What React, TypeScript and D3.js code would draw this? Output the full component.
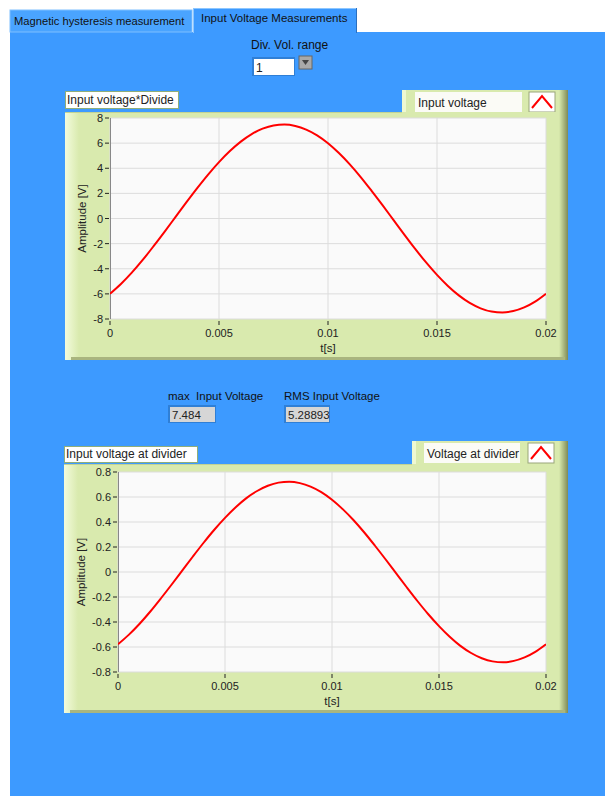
import React from 'react';
import * as d3 from 'd3';

// samples every 0.5 ms over one 20 ms period
const timeS = d3.range(41).map((i) => i * 0.0005);
const inputVoltage = [
  -5.99, -5.21, -4.31, -3.3, -2.2, -1.06, 0.11, 1.28, 2.42, 3.5, 4.49, 5.37, 6.12, 6.72, 7.15, 7.41, 7.48, 7.37,
  7.08, 6.62, 5.99, 5.21, 4.31, 3.3, 2.2, 1.06, -0.11, -1.28, -2.42, -3.5, -4.49, -5.37, -6.12, -6.72, -7.15,
  -7.41, -7.48, -7.37, -7.08, -6.62, -5.99,
];
const dividerVoltage = [
  -0.578, -0.503, -0.416, -0.318, -0.212, -0.102, 0.011, 0.124, 0.234, 0.338, 0.433, 0.518, 0.591, 0.648, 0.69,
  0.715, 0.722, 0.711, 0.683, 0.639, 0.578, 0.503, 0.416, 0.318, 0.212, 0.102, -0.011, -0.124, -0.234, -0.338,
  -0.433, -0.518, -0.591, -0.648, -0.69, -0.715, -0.722, -0.711, -0.683, -0.639, -0.578,
];
const xTicks = [0, 0.005, 0.01, 0.015, 0.02];
const yTicksTop = [8, 6, 4, 2, 0, -2, -4, -6, -8];
const yTicksBottom = [0.8, 0.6, 0.4, 0.2, 0, -0.2, -0.4, -0.6, -0.8];
const maxInputVoltage = '7.484';
const rmsInputVoltage = '5.28893';

const FONT = 'Liberation Sans, Arial, sans-serif';
const BLUE = '#3d9aff';
const FRAME = '#d9eaae';

type ChartProps = {
  id: string;
  frame: { x0: number; y0: number; x1: number; y1: number };
  plot: { left: number; right: number; top: number; bottom: number };
  title: { x1: number; y0: number; y1: number; text: string };
  legend: { x0: number; y0: number; y1: number; tx0: number; tx1: number; ix0: number; text: string };
  values: number[];
  yTicks: number[];
};

function Chart({ id, frame, plot, title, legend, values, yTicks }: ChartProps) {
  const x = d3.scaleLinear().domain([0, 0.02]).range([plot.left, plot.right]);
  const ext = yTicks[0];
  const y = d3.scaleLinear().domain([-ext, ext]).range([plot.bottom, plot.top]);
  const line = d3
    .line<number>()
    .x((_, i) => x(timeS[i]))
    .y((d) => y(d))
    .curve(d3.curveMonotoneX);
  const fmt = (v: number) => (v === 0 ? '0' : String(v));
  const lgTop = legend.y0;
  const lgBot = legend.y1;
  return (
    <g>
      <defs>
        <linearGradient id={`${id}-r`} x1="0" x2="1">
          <stop offset="0" stopColor={FRAME} />
          <stop offset="1" stopColor="#7f8a56" />
        </linearGradient>
        <linearGradient id={`${id}-l`} x1="0" x2="1">
          <stop offset="0" stopColor="#f3fbdc" />
          <stop offset="1" stopColor={FRAME} />
        </linearGradient>
        <clipPath id={`${id}-c`}>
          <rect x={plot.left} y={plot.top} width={plot.right - plot.left} height={plot.bottom - plot.top} />
        </clipPath>
      </defs>
      {/* legend tab */}
      <rect x={legend.x0} y={lgTop} width={frame.x1 - legend.x0} height={frame.y0 - lgTop + 4} fill={FRAME} />
      <rect x={legend.x0} y={lgTop} width={4} height={frame.y0 - lgTop} fill="#eef8d2" />
      <rect x={frame.x1 - 9} y={lgTop} width={9} height={frame.y0 - lgTop + 4} fill={`url(#${id}-r)`} />
      <rect x={legend.tx0} y={lgTop + 2} width={legend.tx1 - legend.tx0} height={lgBot - lgTop - 4} fill="#fbfbf6" />
      <text x={legend.tx0 + 3} y={lgBot - 7} fontFamily={FONT} fontSize={12} fill="#222">
        {legend.text}
      </text>
      <rect x={legend.ix0} y={lgTop + 2} width={26} height={lgBot - lgTop - 4} fill="#fff" stroke="#9aa57a" strokeWidth={1} />
      <path
        d={`M${legend.ix0 + 3},${lgBot - 6} L${legend.ix0 + 13},${lgTop + 6} L${legend.ix0 + 23},${lgBot - 6}`}
        fill="none"
        stroke="#ff0000"
        strokeWidth={2}
      />
      {/* frame */}
      <rect x={frame.x0} y={frame.y0} width={frame.x1 - frame.x0} height={frame.y1 - frame.y0} fill={FRAME} />
      <rect x={frame.x0} y={frame.y0} width={14} height={frame.y1 - frame.y0} fill={`url(#${id}-l)`} />
      <rect x={frame.x1 - 9} y={frame.y0} width={9} height={frame.y1 - frame.y0} fill={`url(#${id}-r)`} />
      <rect x={frame.x0 + 6} y={frame.y1 - 3} width={frame.x1 - frame.x0 - 9} height={3} fill="#a9b57f" />
      <line x1={frame.x0} x2={legend.x0} y1={frame.y0 + 0.5} y2={frame.y0 + 0.5} stroke="#c2d394" />
      {/* title label */}
      <rect x={frame.x0 + 0.5} y={title.y0 + 0.5} width={title.x1 - frame.x0} height={title.y1 - title.y0} fill="#fff" stroke="#8fae7a" />
      <text x={frame.x0 + 2} y={title.y1 - 4} fontFamily={FONT} fontSize={12} fill="#222">
        {title.text}
      </text>
      {/* plot */}
      <rect x={plot.left} y={plot.top} width={plot.right - plot.left} height={plot.bottom - plot.top} fill="#fafafa" />
      {yTicks.map((t) => (
        <line key={`gy${t}`} x1={plot.left} x2={plot.right} y1={y(t)} y2={y(t)} stroke="#dcdcdc" />
      ))}
      {xTicks.map((t) => (
        <line key={`gx${t}`} x1={x(t)} x2={x(t)} y1={plot.top} y2={plot.bottom} stroke="#dcdcdc" />
      ))}
      <line x1={plot.left + 0.5} x2={plot.left + 0.5} y1={plot.top} y2={plot.bottom} stroke="#888" />
      <path d={line(values) || ''} fill="none" stroke="#ff0000" strokeWidth={2} clipPath={`url(#${id}-c)`} />
      {/* y axis */}
      {yTicks.map((t) => (
        <g key={`ty${t}`}>
          <line x1={plot.left - 5} x2={plot.left - 1} y1={y(t)} y2={y(t)} stroke="#222" />
          <text x={plot.left - 7} y={y(t) + 4} textAnchor="end" fontFamily={FONT} fontSize={11} fill="#222">
            {fmt(t)}
          </text>
        </g>
      ))}
      {/* x axis */}
      {xTicks.map((t) => (
        <g key={`tx${t}`}>
          <line x1={x(t)} x2={x(t)} y1={plot.bottom + 2} y2={plot.bottom + 6} stroke="#222" />
          <text x={x(t)} y={plot.bottom + 18} textAnchor="middle" fontFamily={FONT} fontSize={11} fill="#222">
            {fmt(t)}
          </text>
        </g>
      ))}
      <text x={(plot.left + plot.right) / 2} y={plot.bottom + 33} textAnchor="middle" fontFamily={FONT} fontSize={11.5} fill="#222">
        t[s]
      </text>
      <text
        transform={`translate(${frame.x0 + 21},${(plot.top + plot.bottom) / 2}) rotate(-90)`}
        textAnchor="middle"
        fontFamily={FONT}
        fontSize={11.5}
        fill="#222"
      >
        Amplitude [V]
      </text>
    </g>
  );
}

function Numeric({ x, y, w, label, value }: { x: number; y: number; w: number; label: string; value: string }) {
  return (
    <g>
      <text x={x} y={y - 5} fontFamily={FONT} fontSize={11.5} fill="#111" style={{ whiteSpace: 'pre' }}>
        {label}
      </text>
      <rect x={x} y={y} width={w} height={18} fill="#2f7fd6" />
      <rect x={x + 2} y={y + 2} width={w - 3} height={15} fill="#d6d6d6" />
      <text x={x + 4} y={y + 14} fontFamily={FONT} fontSize={11.5} fill="#222">
        {value}
      </text>
    </g>
  );
}

export default function App() {
  return (
    <svg
      width={605}
      height={796}
      style={{ position: 'absolute', left: 0, top: 0, background: '#fff' }}
      xmlns="http://www.w3.org/2000/svg"
    >
      {/* panel and tabs */}
      <rect x={10} y={32} width={595} height={764} fill={BLUE} />
      <rect x={10} y={10} width={182} height={22} fill="#4aa4ff" stroke="#7fbfff" />
      <text x={14} y={25} fontFamily={FONT} fontSize={11.2} fill="#111">
        Magnetic hysteresis measurement
      </text>
      <rect x={193} y={8} width={164} height={26} fill={BLUE} />
      <line x1={193.5} x2={193.5} y1={8} y2={33} stroke="#8cc6ff" />
      <line x1={193} x2={357} y1={8.5} y2={8.5} stroke="#8cc6ff" />
      <line x1={356.5} x2={356.5} y1={8} y2={33} stroke="#2a6fc0" />
      <text x={201} y={22} fontFamily={FONT} fontSize={11.5} fill="#111">
        Input Voltage Measurements
      </text>
      {/* Div. Vol. range control */}
      <text x={251} y={49} fontFamily={FONT} fontSize={12} fill="#111">
        Div. Vol. range
      </text>
      <rect x={252} y={57} width={43} height={19} fill="#2f7fd6" />
      <rect x={254} y={59} width={40} height={16} fill="#fff" />
      <text x={256} y={72} fontFamily={FONT} fontSize={12} fill="#222">
        1
      </text>
      <rect x={299} y={56} width={13} height={13} fill="#a9a9a9" stroke="#666" />
      <path d="M302,60 L309,60 L305.5,65 Z" fill="#444" />
      <Chart
        id="c1"
        frame={{ x0: 65, y0: 112, x1: 568, y1: 360 }}
        plot={{ left: 110, right: 546, top: 118, bottom: 319 }}
        title={{ x1: 178, y0: 91, y1: 108, text: 'Input voltage*Divide' }}
        legend={{ x0: 402, y0: 90, y1: 114, tx0: 415, tx1: 522, ix0: 529, text: 'Input voltage' }}
        values={inputVoltage}
        yTicks={yTicksTop}
      />
      <Numeric x={168} y={405} w={48} label="max  Input Voltage" value={maxInputVoltage} />
      <Numeric x={284} y={405} w={46} label="RMS Input Voltage" value={rmsInputVoltage} />
      <Chart
        id="c2"
        frame={{ x0: 64, y0: 464, x1: 568, y1: 713 }}
        plot={{ left: 118, right: 546, top: 472, bottom: 672 }}
        title={{ x1: 197, y0: 446, y1: 462, text: 'Input voltage at divider' }}
        legend={{ x0: 412, y0: 441, y1: 465, tx0: 424, tx1: 520, ix0: 528, text: 'Voltage at divider' }}
        values={dividerVoltage}
        yTicks={yTicksBottom}
      />
    </svg>
  );
}
